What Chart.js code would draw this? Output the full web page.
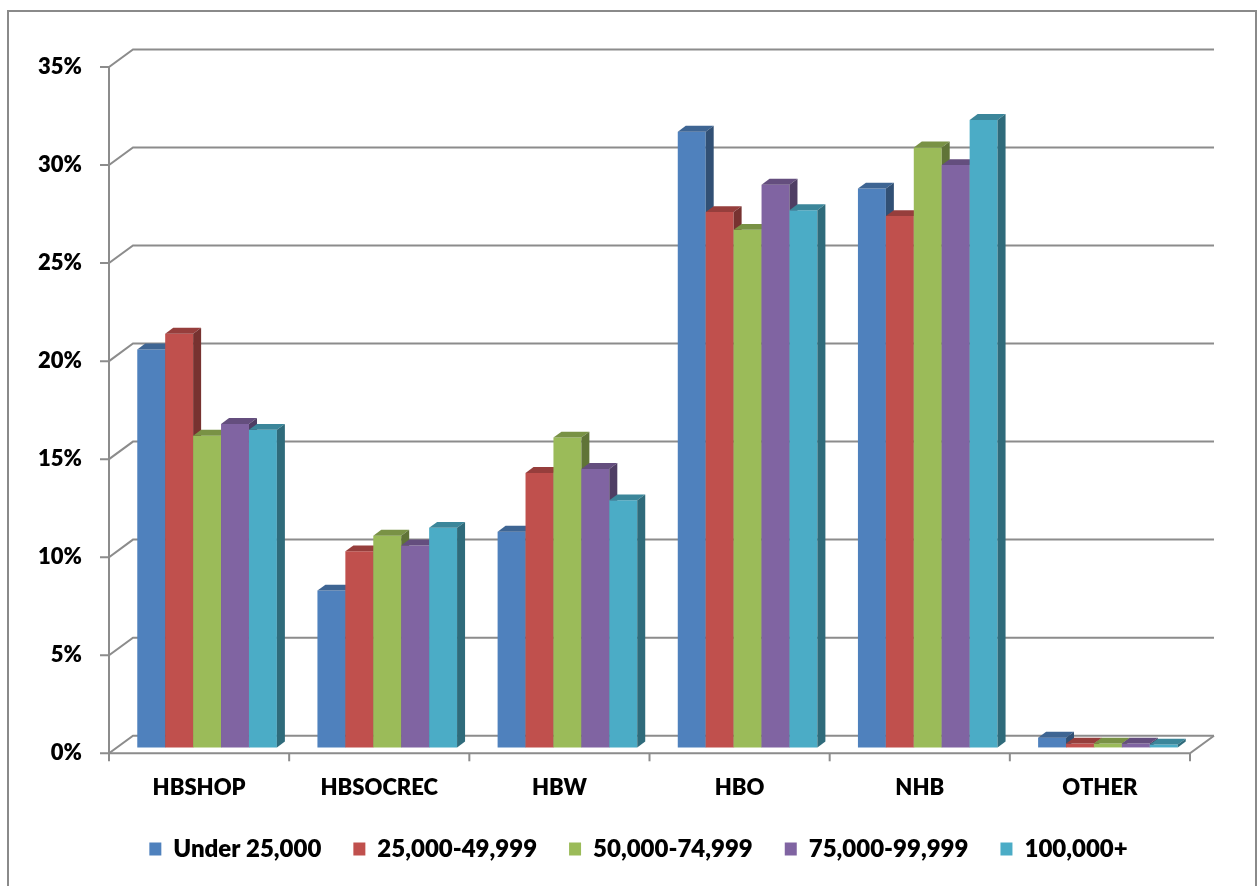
<!DOCTYPE html>
<html>
<head>
<meta charset="utf-8">
<script src="https://cdn.jsdelivr.net/npm/chart.js@4/dist/chart.umd.min.js"></script>
<style>
  html, body { margin: 0; padding: 0; background: #fff; }
  #wrap { width: 1259px; height: 886px; position: relative; }
</style>
</head>
<body>
<div id="wrap"><canvas id="c" width="1259" height="886"></canvas></div>
<script>
// Trip purpose shares by household income band
const categories = ['HBSHOP', 'HBSOCREC', 'HBW', 'HBO', 'NHB', 'OTHER'];
const seriesNames = ['Under 25,000', '25,000-49,999', '50,000-74,999', '75,000-99,999', '100,000+'];
const under25k   = [20.3,  8.0, 11.0, 31.4, 28.5, 0.5];
const inc25to50  = [21.1, 10.0, 14.0, 27.3, 27.1, 0.2];
const inc50to75  = [15.9, 10.8, 15.8, 26.4, 30.6, 0.2];
const inc75to100 = [16.5, 10.3, 14.2, 28.7, 29.7, 0.2];
const inc100plus = [16.2, 11.2, 12.6, 27.4, 32.0, 0.15];
const yMin = 0, yMax = 35, yStep = 5;

const seriesValues = [under25k, inc25to50, inc50to75, inc75to100, inc100plus];
const seriesColors = ['#4F81BD', '#C0504D', '#9BBB59', '#8064A2', '#4BACC6'];

// depth of the floor / back wall in pixels
const DEPTH_X = 24, DEPTH_Y = 17.6;
const GRID = '#8c8c8c';
const FONT = { family: 'Lato', weight: 800, size: 22 };
const LEGEND_FONT = { family: 'Lato', weight: 800, size: 24 };

function shade(hex, f) {
  const n = parseInt(hex.slice(1), 16);
  const r = Math.round(((n >> 16) & 255) * f);
  const g = Math.round(((n >> 8) & 255) * f);
  const b = Math.round((n & 255) * f);
  return `rgb(${r},${g},${b})`;
}

function poly(ctx, pts, fill) {
  ctx.beginPath();
  ctx.moveTo(pts[0][0], pts[0][1]);
  for (let i = 1; i < pts.length; i++) ctx.lineTo(pts[i][0], pts[i][1]);
  ctx.closePath();
  ctx.fillStyle = fill;
  ctx.fill();
}

const frame3d = {
  id: 'frame3d',
  beforeDraw(chart) {
    const ctx = chart.ctx;
    ctx.save();
    ctx.fillStyle = '#fff';
    ctx.fillRect(0, 0, chart.width, chart.height);
    ctx.strokeStyle = '#8a8a8a';
    ctx.lineWidth = 2;
    ctx.strokeRect(8, 11, 1248, 900);
    ctx.restore();
  },
  beforeDatasetsDraw(chart) {
    const ctx = chart.ctx;
    const ys = chart.scales.y, xs = chart.scales.x;
    const left = chart.chartArea.left, right = chart.chartArea.right;
    const bottom = ys.getPixelForValue(yMin);
    ctx.save();
    ctx.strokeStyle = GRID;
    ctx.lineWidth = 2;
    ctx.lineCap = 'butt';
    // back wall gridlines and side-wall diagonals
    for (let v = yMin; v <= yMax; v += yStep) {
      const y = ys.getPixelForValue(v);
      ctx.beginPath();
      ctx.moveTo(left - 9, y);
      ctx.lineTo(left, y);
      ctx.lineTo(left + DEPTH_X, y - DEPTH_Y);
      ctx.lineTo(right + DEPTH_X, y - DEPTH_Y);
      ctx.stroke();
    }
    // front vertical axis
    ctx.beginPath();
    ctx.moveTo(left, ys.getPixelForValue(yMax));
    ctx.lineTo(left, bottom);
    ctx.stroke();
    // floor front edge and right diagonal
    ctx.beginPath();
    ctx.moveTo(left, bottom);
    ctx.lineTo(right, bottom);
    ctx.lineTo(right + DEPTH_X, bottom - DEPTH_Y);
    ctx.stroke();
    // category tick marks
    const n = categories.length;
    const step = xs.getPixelForValue(1) - xs.getPixelForValue(0);
    for (let i = 0; i <= n; i++) {
      const x = i < n ? xs.getPixelForValue(i) - step / 2 : right;
      ctx.beginPath();
      ctx.moveTo(x, bottom);
      ctx.lineTo(x, bottom + 8);
      ctx.stroke();
    }

    // 3-D columns, painted left to right so each front face covers its neighbour's side
    const ox = DEPTH_X / 3, oy = -DEPTH_Y / 3;
    const bx = DEPTH_X / 3, by = -DEPTH_Y / 3;
    const metas = seriesValues.map((_, d) => chart.getDatasetMeta(d));
    for (let i = 0; i < n; i++) {
      for (let d = 0; d < metas.length; d++) {
        const el = metas[d].data[i];
        const p = el.getProps(['x', 'y', 'base', 'width'], true);
        const col = seriesColors[d];
        const l = p.x - p.width / 2 + ox, r = p.x + p.width / 2 + ox;
        const t = Math.min(p.y, p.base) + oy, b = Math.max(p.y, p.base) + oy;
        poly(ctx, [[l, t], [r, t], [r, b], [l, b]], col);
        poly(ctx, [[l, t], [r, t], [r + bx, t + by], [l + bx, t + by]], shade(col, 0.78));
        poly(ctx, [[r, t], [r + bx, t + by], [r + bx, b + by], [r, b]], shade(col, 0.62));
      }
    }
    ctx.restore();
    return false;
  }
};

new Chart(document.getElementById('c'), {
  type: 'bar',
  data: {
    labels: categories,
    datasets: seriesNames.map((name, d) => ({
      label: name,
      data: seriesValues[d],
      backgroundColor: seriesColors[d],
      borderWidth: 0
    }))
  },
  options: {
    responsive: false,
    animation: false,
    events: [],
    layout: { padding: { left: 18, right: 0, top: 67, bottom: 15 } },
    datasets: { bar: { categoryPercentage: 0.775, barPercentage: 1 } },
    scales: {
      x: {
        grid: { display: false, drawTicks: false },
        border: { display: false },
        ticks: { color: '#000', font: FONT, padding: 21, maxRotation: 0 },
        afterFit(s) { s.height = 51.7; }
      },
      y: {
        min: yMin, max: yMax,
        grid: { display: false, drawTicks: false },
        border: { display: false },
        ticks: { stepSize: yStep, color: '#000', font: FONT, padding: 27,
                 callback: v => v + '%' },
        afterFit(s) { s.width = 91; }
      },
      pad: {
        position: 'right', display: true,
        grid: { display: false, drawTicks: false },
        border: { display: false },
        ticks: { display: false },
        afterFit(s) { s.width = 69; }
      }
    },
    plugins: {
      tooltip: { enabled: false },
      legend: {
        position: 'bottom',
        labels: { color: '#000', font: LEGEND_FONT, boxWidth: 12, boxHeight: 13, padding: 32 }
      }
    }
  },
  plugins: [frame3d]
});
</script>
</body>
</html>
